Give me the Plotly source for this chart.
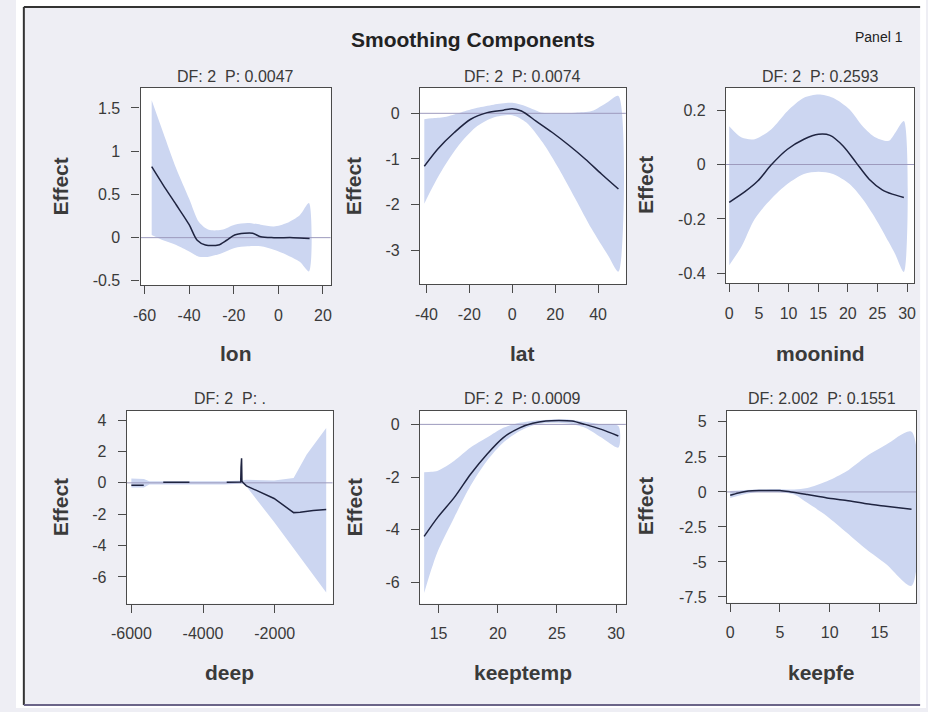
import plotly.graph_objects as go

# ---------------- data: smoothing components (fit and 95% band) ----------------
lon_x = [-56.8, -51.7, -45.8, -40, -36.4, -32.7, -26.9, -23.2, -19.6, -15.2, -11.5, -7.9, -2, 6.7, 14]
lon_fit = [0.82, 0.61, 0.38, 0.15, -0.03, -0.085, -0.085, -0.03, 0.03, 0.05, 0.05, 0.01, 0.0, 0.0, -0.01]
lon_band_x = [-56.8, -51.7, -45.8, -40, -35.6, -31.2, -25.4, -19.6, -13.8, -7.9, -2, 3.8, 9.6, 13.7]
lon_upper = [1.59, 1.22, 0.8, 0.45, 0.18, 0.09, 0.09, 0.15, 0.17, 0.15, 0.13, 0.17, 0.26, 0.4]
lon_lower = [0.03, -0.03, -0.085, -0.16, -0.22, -0.22, -0.18, -0.12, -0.10, -0.10, -0.14, -0.2, -0.28, -0.39]

lat_x = [-41, -34.7, -27, -19.4, -11.7, -4.1, 0, 4.3, 11.1, 18.7, 26.4, 34, 41.6, 49.5]
lat_fit = [-1.16, -0.78, -0.42, -0.13, 0.015, 0.07, 0.1, 0.05, -0.17, -0.42, -0.70, -1.0, -1.33, -1.66]
lat_band_x = [-41, -37.6, -31.5, -23.9, -16.3, -8.7, 0, 6.6, 14.2, 21.8, 29.4, 37, 44.6, 49.5]
lat_upper = [-0.13, -0.11, -0.08, 0.02, 0.12, 0.19, 0.23, 0.15, 0.01, 0.0, 0.015, 0.05, 0.25, 0.38]
lat_lower = [-1.98, -1.66, -1.15, -0.64, -0.28, -0.09, -0.04, -0.2, -0.64, -1.22, -1.87, -2.53, -3.11, -3.47]

moon_x = [0, 2.65, 4.85, 7.06, 9.82, 12.6, 15.06, 17, 19.2, 21.4, 23.6, 25.8, 27.5, 29.45]
moon_fit = [-0.139, -0.10, -0.06, -0.002, 0.056, 0.093, 0.111, 0.107, 0.068, 0.007, -0.054, -0.093, -0.109, -0.121]
moon_band_x = [0, 2.1, 4.3, 7.06, 9.8, 12.6, 15.06, 17.5, 20.3, 22.5, 24.7, 26.9, 28.0, 29.45]
moon_upper = [0.141, 0.099, 0.093, 0.129, 0.196, 0.245, 0.257, 0.245, 0.202, 0.141, 0.099, 0.087, 0.117, 0.16]
moon_lower = [-0.37, -0.30, -0.2, -0.127, -0.072, -0.035, -0.027, -0.035, -0.072, -0.127, -0.2, -0.285, -0.33, -0.395]

deep_x = [-6000, -5655, None, -5110, -4380, None, -3340, -2970, -2950, -2940, -2935, -2925, -2915,
          -2880, -2790, -2018, -1473, -1291, -927, -564]
deep_fit = [-0.15, -0.15, None, 0.04, 0.04, None, 0.04, 0.04, 0.05, 1.0, 0.3, 1.57, 0.1,
            0.0, -0.19, -1.0, -1.9, -1.87, -1.76, -1.70]
deep_band_x = [-6000, -5650, -5500, -4400, -3400, -2900, -2800, -2018, -1473, -1109, -564]
deep_upper = [0.28, 0.25, 0.1, 0.1, 0.1, 0.15, 0.2, 0.15, 0.3, 1.8, 3.5]
deep_lower = [-0.3, -0.3, -0.1, -0.1, -0.1, -0.05, -0.2, -2.5, -4.2, -5.3, -7.0]

temp_x = [13.78, 14.94, 16.33, 17.7, 19.09, 20.47, 21.85, 22.96, 24.06, 25.17, 26.27, 27.38, 28.76, 30.19]
temp_fit = [-4.25, -3.52, -2.77, -1.89, -1.13, -0.5, -0.13, 0.04, 0.13, 0.15, 0.13, 0.0, -0.19, -0.44]
temp_band_x = [13.78, 14.39, 14.94, 16.33, 17.7, 19.09, 20.47, 21.85, 23.23, 24.6, 25.99, 27.38, 28.76, 30.19]
temp_upper = [-1.82, -1.8, -1.76, -1.38, -0.88, -0.5, -0.13, 0.06, 0.15, 0.19, 0.19, 0.1, 0.0, -0.06]
temp_lower = [-6.4, -5.5, -4.8, -3.52, -2.33, -1.38, -0.69, -0.25, 0.0, 0.06, 0.03, -0.13, -0.5, -0.88]

fe_x = [0, 0.82, 1.81, 3.13, 5.01, 6.1, 7.75, 9.73, 11.7, 13.68, 15.66, 18.23]
fe_fit = [-0.24, -0.07, 0.07, 0.1, 0.1, 0.0, -0.19, -0.43, -0.61, -0.85, -1.02, -1.23]
fe_band_x = [0, 2.47, 5.01, 6.43, 7.75, 9.73, 11.7, 13.68, 15.66, 18.23]
fe_upper = [0.07, 0.17, 0.2, 0.17, 0.28, 0.76, 1.47, 2.53, 3.36, 4.3]
fe_lower = [-0.43, -0.02, -0.02, -0.19, -0.78, -1.73, -2.9, -4.1, -5.15, -6.7]

panel_titles = ["DF: 2  P: 0.0047", "DF: 2  P: 0.0074", "DF: 2  P: 0.2593",
                "DF: 2  P: .", "DF: 2  P: 0.0009", "DF: 2.002  P: 0.1551"]
x_labels = ["lon", "lat", "moonind", "deep", "keeptemp", "keepfe"]

x_ticks = [[-60, -40, -20, 0, 20], [-40, -20, 0, 20, 40], [0, 5, 10, 15, 20, 25, 30],
           [-6000, -4000, -2000], [15, 20, 25, 30], [0, 5, 10, 15]]
y_ticks = [[-0.5, 0, 0.5, 1, 1.5], [-3, -2, -1, 0], [-0.4, -0.2, 0, 0.2],
           [-6, -4, -2, 0, 2, 4], [-6, -4, -2, 0], [-7.5, -5, -2.5, 0, 2.5, 5]]

# ---------------- layout geometry (pixels) ----------------
W, H = 928, 712
boxes = [(127, 321, 88, 287), (412, 622, 88, 286), (724, 916, 88, 285),
         (113, 323, 413, 607), (412, 622, 413, 607), (725, 918, 413, 606)]
x_ranges = [[-61.8, 23.5], [-43, 53], [-0.55, 31.2], [-6127, -382], [13.43, 30.83], [-0.33, 18.7]]
y_ranges = [[-0.552, 1.736], [-3.75, 0.566], [-0.437, 0.283], [-7.7, 4.6], [-6.8, 0.52], [-7.9, 5.8]]
ylabel_x = [45, 345, 642, 45, 345, 642]

FRAME_BG = "#eeeef4"
BAND = "#ccd6f1"
LINE = "#1f2440"
ZERO = "#9d9abd"
AXIS = "#4a4a4a"
TEXT = "#3a3a3a"
FONT = "Liberation Sans, Arial, sans-serif"


def px_x(v):
    return v / W


def px_y(v):
    return 1 - v / H


def fmt(v):
    return "%g" % v


series = [
    (lon_x, lon_fit, lon_band_x, lon_upper, lon_lower),
    (lat_x, lat_fit, lat_band_x, lat_upper, lat_lower),
    (moon_x, moon_fit, moon_band_x, moon_upper, moon_lower),
    (deep_x, deep_fit, deep_band_x, deep_upper, deep_lower),
    (temp_x, temp_fit, temp_band_x, temp_upper, temp_lower),
    (fe_x, fe_fit, fe_band_x, fe_upper, fe_lower),
]

fig = go.Figure()
shapes = []
annotations = []

# white strips outside the outer frame
for (a, b, c, d) in [(0, 8, 0, H), (922, W, 0, H), (0, W, 0, 7), (0, W, 709, H)]:
    shapes.append(dict(type="rect", xref="paper", yref="paper", x0=px_x(a), x1=px_x(b),
                       y0=px_y(d), y1=px_y(c), fillcolor="white", line=dict(width=0),
                       layer="above"))
# outer frame lines
for (xa, ya, xb, yb, c) in [(8, 7, 8, 709, "#333333"), (8, 7, 922, 7, "#333333"),
                            (8, 709, 922, 709, "#6a6488")]:
    shapes.append(dict(type="line", xref="paper", yref="paper", x0=px_x(xa), x1=px_x(xb),
                       y0=px_y(ya), y1=px_y(yb), line=dict(color=c, width=2), layer="above"))


def label(text, x, y, size, angle=0, color=TEXT):
    annotations.append(dict(text=text, x=px_x(x), y=px_y(y), xref="paper", yref="paper",
                            xanchor="center", yanchor="middle", showarrow=False,
                            textangle=angle, font=dict(size=size, color=color, family=FONT)))


label("<b>Smoothing Components</b>", 466, 40, 21, color="#222222")
label("Panel 1", 880, 37, 14, color="#222222")

for i, (sx, sfit, bx, bu, bl) in enumerate(series):
    n = "" if i == 0 else str(i + 1)
    xa, ya = "x" + n, "y" + n
    x0, x1, y0, y1 = boxes[i]
    shape = "linear" if i == 3 else "spline"

    # confidence band as closed polygon (upper edge out, lower edge back)
    poly_x = list(bx) + list(bx[::-1])
    poly_y = list(bu) + list(bl[::-1])
    fig.add_trace(go.Scatter(x=poly_x, y=poly_y, fill="toself", fillcolor=BAND,
                             line=dict(width=0, shape=shape, smoothing=0.8), mode="lines",
                             hoverinfo="skip", showlegend=False, xaxis=xa, yaxis=ya))
    # zero reference
    fig.add_trace(go.Scatter(x=x_ranges[i], y=[0, 0], mode="lines",
                             line=dict(color=ZERO, width=1), showlegend=False,
                             hoverinfo="skip", xaxis=xa, yaxis=ya))
    # fitted smooth
    fig.add_trace(go.Scatter(x=sx, y=sfit, mode="lines",
                             line=dict(color=LINE, width=1.5, shape=shape, smoothing=0.8),
                             connectgaps=False, showlegend=False, xaxis=xa, yaxis=ya))

    axis_common = dict(showgrid=False, zeroline=False, showline=True, mirror=True,
                       linecolor=AXIS, linewidth=1.2, ticks="outside", ticklen=8,
                       tickcolor=AXIS, tickwidth=1.2,
                       tickfont=dict(size=16, color=TEXT, family=FONT))
    fig.update_layout(**{
        ("xaxis" + n): dict(domain=[px_x(x0), px_x(x1)], range=x_ranges[i], anchor=ya,
                            tickvals=x_ticks[i], ticktext=[fmt(v) for v in x_ticks[i]],
                            ticklabelstandoff=7, **axis_common),
        ("yaxis" + n): dict(domain=[px_y(y1), px_y(y0)], range=y_ranges[i], anchor=xa,
                            tickvals=y_ticks[i], ticktext=[fmt(v) for v in y_ticks[i]],
                            ticklabelstandoff=8, **axis_common),
    })

    cx = (x0 + x1) / 2
    cy = (y0 + y1) / 2
    label(panel_titles[i], cx, 77 if i < 3 else 401, 16)
    label("<b>" + x_labels[i] + "</b>", cx, 355 if i < 3 else 676, 21)
    label("<b>Effect</b>", ylabel_x[i], cy, 21, angle=-90)

fig.update_layout(width=W, height=H, margin=dict(l=0, r=0, t=0, b=0),
                  paper_bgcolor=FRAME_BG, plot_bgcolor="white",
                  shapes=shapes, annotations=annotations, showlegend=False)

fig.write_html("out.html", config={"displayModeBar": False})
